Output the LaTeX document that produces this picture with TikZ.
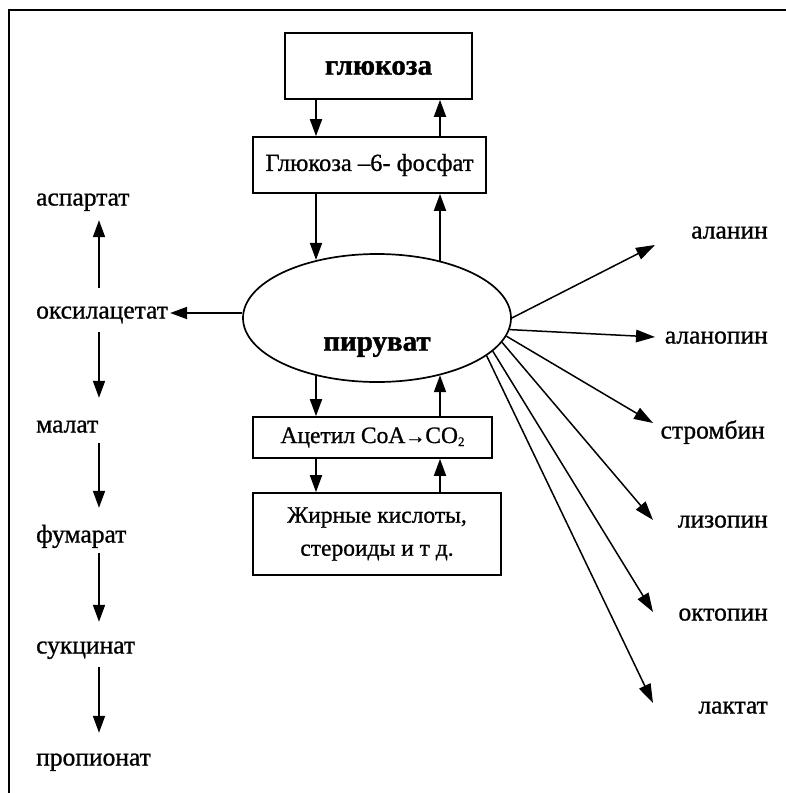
\documentclass[tikz,border=0pt]{standalone}
\usepackage{fontspec}
\setmainfont{Liberation Serif}
\newfontfamily\semifont{Liberation Serif}[FakeBold=0.9]
\newfontfamily\heavyfont{Liberation Serif Bold}[FakeBold=1.2]
\usetikzlibrary{arrows.meta,shapes.geometric}
\begin{document}
\begin{tikzpicture}[x=1pt,y=-1pt,
  flow/.style={-{Triangle[length=17pt,width=12pt]}, line width=1.8pt},
  ray/.style={-{Triangle[length=19pt,width=12.5pt]}, line width=1.5pt},
  stage/.style={draw, line width=1.7pt, inner sep=0pt, align=center,
    font=\fontsize{23.5}{33}\selectfont\semifont},
  lbl/.style={inner sep=0pt, text height=17pt, text depth=6pt,
    font=\fontsize{25.5}{28}\selectfont\semifont},
  heavy/.style={inner sep=0pt, font=\fontsize{29}{32}\selectfont\heavyfont},
]
\useasboundingbox (0,0) rectangle (786,793);
% frame
\draw[line width=2.6pt] (9,793) -- (9,10) -- (786,10);

% central chain
\node[stage, minimum width=187pt, minimum height=66pt] (glc) at (378.5,66) {};
\node[heavy] (glct) at (378.5,68) {глюкоза};
\node[stage, minimum width=233pt, minimum height=56pt,
  font=\fontsize{24.5}{33}\selectfont\semifont] (g6p) at (369.5,165) {Глюкоза –6- фосфат};
\node[draw, ellipse, line width=1.7pt, minimum width=268pt, minimum height=128pt, inner sep=0pt] (pyr) at (377,318) {};
\node[heavy] (pyrt) at (377,347) {пируват};
\node[stage, minimum width=239pt, minimum height=41pt] (acoa) at (372.5,437.5)
  {Ацетил CoA{\fontsize{20}{20}\selectfont→}CO\raisebox{-3pt}{\fontsize{13}{13}\selectfont 2}};
\node[stage, minimum width=248pt, minimum height=82pt] (fat) at (377,534) {Жирные кислоты,\\стероиды и т д.};

\coordinate (L) at (316,0);
\coordinate (R) at (440,0);
\draw[flow] (glc.south -| L) -- (g6p.north -| L);
\draw[flow] (g6p.north -| R) -- (glc.south -| R);
\draw[flow] (g6p.south -| L) -- (pyr.136.9 -| L);
\draw[flow] (pyr.41.9 -| R) -- (g6p.south -| R);
\draw[flow] (pyr.223.1 -| L) -- (acoa.north -| L);
\draw[flow] (acoa.north -| R) -- (pyr.318.1 -| R);
\draw[flow] (acoa.south -| L) -- (fat.north -| L);
\draw[flow] (fat.north -| R) -- (acoa.south -| R);

% left branch
\node[lbl, anchor=west] (asp) at (36,200) {аспартат};
\node[lbl, anchor=west] (oxa) at (36,313) {оксилацетат};
\node[lbl, anchor=west] (mal) at (36,427) {малат};
\node[lbl, anchor=west] (fum) at (36,537) {фумарат};
\node[lbl, anchor=west] (suc) at (36,648) {сукцинат};
\node[lbl, anchor=west] (prop) at (36,760) {пропионат};
\coordinate (C) at (99,0);
\draw[flow] (pyr.west |- oxa.east) -- ([xshift=2pt]oxa.east);
\draw[flow, shorten <=13.5pt, shorten >=8.5pt] (oxa.north -| C) -- (asp.south -| C);
\draw[flow, shorten <=7.5pt, shorten >=17.5pt] (oxa.south -| C) -- (mal.north -| C);
\draw[flow, shorten <=4.5pt, shorten >=17.5pt] (mal.south -| C) -- (fum.north -| C);
\draw[flow, shorten <=4.5pt, shorten >=14.5pt] (fum.south -| C) -- (suc.north -| C);
\draw[flow, shorten <=7.5pt, shorten >=15.5pt] (suc.south -| C) -- (prop.north -| C);

% right branch
\node[lbl, anchor=east] (ala) at (768,233) {аланин};
\node[lbl, anchor=east] (alp) at (768,338) {аланопин};
\node[lbl, anchor=east] (str) at (765,433) {стромбин};
\node[lbl, anchor=east] (lys) at (768,522) {лизопин};
\node[lbl, anchor=east] (oct) at (768,615) {октопин};
\node[lbl, anchor=east] (lac) at (768,708) {лактат};
\coordinate (tala) at (655,245);
\coordinate (talp) at (655,337);
\coordinate (tstr) at (653,423);
\coordinate (tlys) at (653,520);
\coordinate (toct) at (653,612);
\coordinate (tlac) at (653,703);
\draw[ray] (pyr.-0.4) -- (tala);
\draw[ray] (pyr.-5.2) -- (talp);
\draw[ray] (pyr.-8.7) -- (tstr);
\draw[ray] (pyr.-11.7) -- (tlys);
\draw[ray] (pyr.-16.3) -- (toct);
\draw[ray] (pyr.-19.5) -- (tlac);
\end{tikzpicture}
\end{document}
